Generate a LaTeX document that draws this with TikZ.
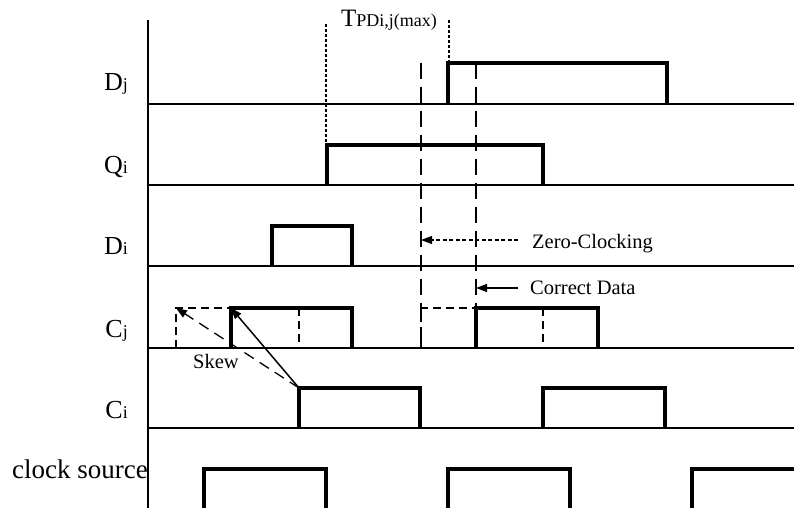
\documentclass[tikz,border=0pt]{standalone}
\usepackage{fontspec}
\setmainfont{Liberation Serif}
\usetikzlibrary{arrows.meta}
\newcommand{\bigL}[1]{{\fontsize{26}{26}\selectfont #1}}
\newcommand{\smallL}[1]{{\fontsize{18}{18}\selectfont #1}}
\begin{document}
\begin{tikzpicture}[x=1pt,y=-1pt,
  base/.style={line width=1.5pt},
  wave/.style={line width=3.2pt, line join=miter},
  ghost/.style={line width=2.6pt, dash pattern=on 8pt off 5pt},
  guide/.style={line width=1.3pt, dash pattern=on 16pt off 8pt},
  marker/.style={line width=1.2pt, dash pattern=on 3pt off 2pt},
  lbl/.style={anchor=base east, inner sep=0pt},
  note/.style={anchor=base west, inner sep=0pt, font=\fontsize{20.5}{24}\selectfont},
  tip/.style={-{Triangle[length=11pt,width=8pt]}},
]
\useasboundingbox (0,0) rectangle (794,508);

% axis and baselines
\draw[base] (148,20) -- (148,508);
\foreach \y in {104,185,266,348,428} \draw[base] (148,\y) -- (794,\y);

% Dj
\draw[wave] (448,104) -- (448,63) -- (667,63) -- (667,104);
% Qi
\draw[wave] (327,185) -- (327,145) -- (543,145) -- (543,185);
% Di
\draw[wave] (272,266) -- (272,226) -- (352,226) -- (352,266);
% Cj
\draw[wave] (231,348) -- (231,308) -- (352,308) -- (352,348);
\draw[wave] (476,348) -- (476,308) -- (598,308) -- (598,348);
% Ci
\draw[wave] (299,428) -- (299,388) -- (420,388) -- (420,428);
\draw[wave] (543,428) -- (543,388) -- (665,388) -- (665,428);
% clock source
\draw[wave] (204,508) -- (204,469) -- (326,469) -- (326,508);
\draw[wave] (448,508) -- (448,469) -- (570,469) -- (570,508);
\draw[wave] (692,508) -- (692,469) -- (794,469);

% skewed (ghost) edges of Cj
\draw[ghost] (176,348) -- (176,308) -- (231,308);
\draw[ghost] (299,308) -- (299,348);
\draw[ghost] (421,348) -- (421,308) -- (476,308);
\draw[ghost] (543,308) -- (543,348);

% guide lines
\draw[guide] (421,63) -- (421,348);
\draw[guide] (476,63) -- (476,308);
\draw[marker] (326,24) -- (326,185);
\draw[marker] (449,20) -- (449,104);

% labels
\node[lbl] (Dj) at (128,91) {\bigL{D}\smallL{j}};
\node[lbl] (Qi) at (128,173) {\bigL{Q}\smallL{i}};
\node[lbl] (Di) at (128,254) {\bigL{D}\smallL{i}};
\node[lbl] (Cj) at (128,337) {\bigL{C}\smallL{j}};
\node[lbl] (Ci) at (128,418) {\bigL{C}\smallL{i}};
\node[lbl, font=\fontsize{27}{27}\selectfont] (clk) at (148,478) {clock source};
\node[anchor=base west, inner sep=0pt] (tpd) at (341,27)
  {{\fontsize{25}{25}\selectfont T}{\fontsize{18}{18}\selectfont PDi,j(max)}};

% annotations
\node[note] (zc) at (532,248) {Zero-Clocking};
\node[note] (cd) at (530,294) {Correct Data};
\node[note] (skew) at (193,368) {Skew};

\coordinate (zcS) at (518,240);
\coordinate (zcE) at (421,240);
\coordinate (cdS) at (518,288);
\coordinate (cdE) at (476,288);
\draw[tip, line width=1.2pt, dash pattern=on 4pt off 2.5pt] (zcS) -- (zcE);
\draw[tip, line width=1.5pt] (cdS) -- (cdE);

\coordinate (sk0) at (299,388);
\coordinate (skA) at (176,308);
\coordinate (skB) at (231,308);
\draw[tip, line width=1.3pt, dash pattern=on 11pt off 7pt] (sk0) -- (skA);
\draw[tip, line width=1.5pt] (sk0) -- (skB);
\end{tikzpicture}
\end{document}
